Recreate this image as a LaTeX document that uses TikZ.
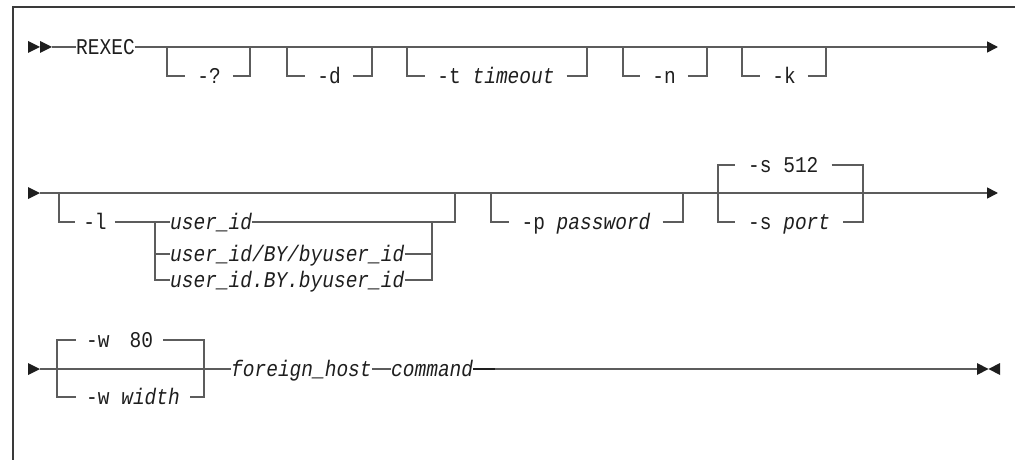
\documentclass[tikz,border=0pt]{standalone}
\usepackage{fontspec}
\setmonofont[FakeStretch=0.867]{Liberation Mono}
\usetikzlibrary{arrows.meta}
\definecolor{railc}{HTML}{5C5C5C}
\definecolor{inkc}{HTML}{1E1E1E}
\definecolor{framec}{HTML}{3A3A3A}
\begin{document}
\begin{tikzpicture}[x=1pt,y=-1pt,
  rail/.style={draw=railc,line width=1.6pt},
  endtip/.style={-{Triangle[length=11pt,width=11pt,color=inkc]}},
  tipmark/.style={fill=inkc},
  lbl/.style={font=\ttfamily\fontsize{22.5}{24}\selectfont,text=inkc,
    inner ysep=0pt,inner xsep=12pt,text height=14.6pt,text depth=0pt},
  kw/.style={lbl,inner xsep=0pt},
  var/.style={lbl,inner xsep=0pt,font=\ttfamily\itshape\fontsize{22.5}{24}\selectfont}]
\useasboundingbox (0,0) rectangle (1015,460);
% frame
\draw[framec,line width=2pt] (12.5,460) -- (12.5,7.5) -- (1015,7.5);

% ---------- row 1 ----------
\fill[tipmark] (28,41) -- (40,47) -- (28,53) -- cycle;
\fill[tipmark] (40,41) -- (52,47) -- (40,53) -- cycle;
\coordinate (s1) at (52,47);
\node[kw,anchor=west] (rexec) at (76,47) {REXEC};
\coordinate (e1) at (998,47);
\draw[rail] (s1) -- (rexec.west);
\draw[rail,endtip] (rexec.east) -- (e1);
% -?
\coordinate (qL) at (167,47); \coordinate (qR) at (250,47);
\node[lbl] (q) at (209,76) {-?};
\draw[rail] (qL) |- (q.west); \draw[rail] (q.east) -| (qR);
% -d
\coordinate (dL) at (287,47); \coordinate (dR) at (372,47);
\node[lbl] (d) at (329,76) {-d};
\draw[rail] (dL) |- (d.west); \draw[rail] (d.east) -| (dR);
% -t timeout
\coordinate (tL) at (407,47); \coordinate (tR) at (587,47);
\node[lbl] (t) at (496,76) {-t \textit{timeout}};
\draw[rail] (tL) |- (t.west); \draw[rail] (t.east) -| (tR);
% -n
\coordinate (nL) at (623,47); \coordinate (nR) at (707,47);
\node[lbl] (n) at (664,76) {-n};
\draw[rail] (nL) |- (n.west); \draw[rail] (n.east) -| (nR);
% -k
\coordinate (kL) at (742,47); \coordinate (kR) at (826,47);
\node[lbl] (k) at (784,76) {-k};
\draw[rail] (kL) |- (k.west); \draw[rail] (k.east) -| (kR);

% ---------- row 2 ----------
\fill[tipmark] (28,187) -- (40,193) -- (28,199) -- cycle;
\coordinate (s2) at (40,193);
\coordinate (e2) at (998,193);
\draw[rail,endtip] (s2) -- (e2);
% -l group
\coordinate (lL) at (59,193); \coordinate (lR) at (455,193);
\node[lbl,inner xsep=8pt] (l) at (95,222) {-l};
\coordinate (j1) at (155,222); \coordinate (j2) at (155,254);
\coordinate (k1) at (432,222); \coordinate (k2) at (432,254);
\node[var,anchor=west] (u1) at (170,222) {user\_id};
\node[var,anchor=west] (u2) at (170,254) {user\_id/BY/byuser\_id};
\node[var,anchor=west] (u3) at (170,280) {user\_id.BY.byuser\_id};
\draw[rail] (lL) |- (l.west);
\draw[rail] (l.east) -- (j1) -- (u1.west);
\draw[rail] (u1.east) -| (lR);
\draw[rail] (j1) |- (u3.west);
\draw[rail] (j2) -- (u2.west);
\draw[rail] (u2.east) -- (k2);
\draw[rail] (u3.east) -| (k1);
% -p password
\coordinate (pL) at (491,193); \coordinate (pR) at (683,193);
\node[lbl] (p) at (586,222) {-p \textit{password}};
\draw[rail] (pL) |- (p.west); \draw[rail] (p.east) -| (pR);
% -s
\coordinate (sL) at (718,193); \coordinate (sR) at (863,193);
\node[lbl,inner xsep=13pt,anchor=west] (sa) at (735,165) {-s 512};
\node[lbl,inner xsep=13pt,anchor=west] (sb) at (735,222) {-s \textit{port}};
\draw[rail] (sL) |- (sa.west); \draw[rail] (sa.east) -| (sR);
\draw[rail] (sL) |- (sb.west); \draw[rail] (sb.east) -| (sR);

% ---------- row 3 ----------
\fill[tipmark] (28,363) -- (40,369) -- (28,375) -- cycle;
\coordinate (s3) at (40,369);
\node[var,anchor=west] (fh) at (231,369) {foreign\_host};
\node[var,anchor=west] (cmd) at (391,369) {command};
\coordinate (c3) at (495,369);
\coordinate (e3) at (977,369);
\draw[rail] (s3) -- (fh.west);
\draw[rail] (fh.east) -- (cmd.west);
\draw[inkc,line width=2pt] (cmd.east) -- (c3);
\draw[rail] (c3) -- (e3);
\fill[tipmark] (977,363) -- (988.5,369) -- (977,375) -- cycle;
\fill[tipmark] (1000,363) -- (988.5,369) -- (1000,375) -- cycle;
% -w
\coordinate (wL) at (57,369); \coordinate (wR) at (204,369);
\node[lbl,inner xsep=10pt,anchor=west] (wa) at (76,340) {-w\hspace{20pt}80};
\node[lbl,inner xsep=10pt,anchor=west] (wb) at (76,397) {-w \textit{width}};
\draw[rail] (wL) |- (wa.west); \draw[rail] (wa.east) -| (wR);
\draw[rail] (wL) |- (wb.west); \draw[rail] (wb.east) -| (wR);
\end{tikzpicture}
\end{document}
